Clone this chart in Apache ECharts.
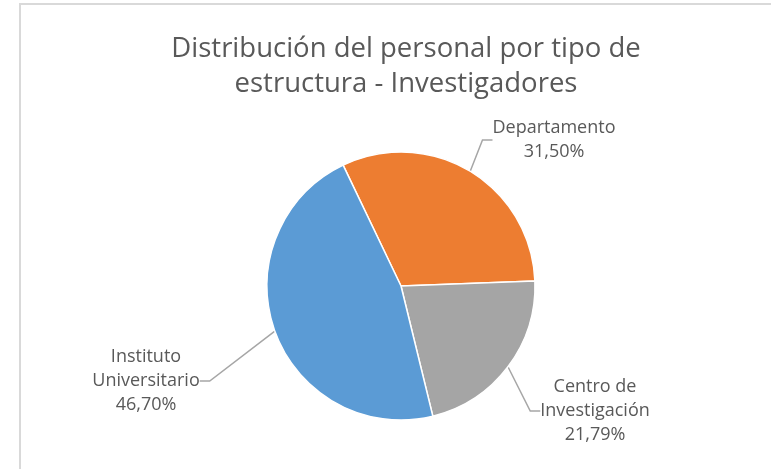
<!DOCTYPE html>
<html>
<head>
<meta charset="utf-8">
<script src="https://cdn.jsdelivr.net/npm/echarts@6/dist/echarts.min.js"></script>
<style>
html,body{margin:0;padding:0;background:#fff;}
#chart{width:771px;height:469px;}
</style>
</head>
<body>
<div id="chart"></div>
<script>
const titleText = 'Distribución del personal por tipo de\nestructura - Investigadores';
const categories = ['Departamento', 'Centro de\nInvestigación', 'Instituto\nUniversitario'];
const values = [31.50, 21.79, 46.70];
const valueLabels = ['31,50%', '21,79%', '46,70%'];
const colors = ['#ED7D31', '#A5A5A5', '#5B9BD5'];
// label block centres (layout)
const labelPos = [[554, 140], [595, 411], [146, 381]];

const chart = echarts.init(document.getElementById('chart'), null, {renderer: 'canvas'});
const data = categories.map((c, i) => ({
  name: c,
  value: values[i],
  itemStyle: {color: colors[i]}
}));

chart.setOption({
  animation: false,
  backgroundColor: '#fff',
  title: {
    text: titleText,
    left: 401,
    top: 27,
    textAlign: 'center',
    textStyle: {
      fontFamily: 'Open Sans',
      fontSize: 27.5,
      fontWeight: 'normal',
      color: '#595959',
      lineHeight: 35
    }
  },
  graphic: [{
    type: 'rect',
    shape: {x: 20, y: 4, width: 800, height: 500},
    style: {fill: 'none', stroke: '#d9d9d9', lineWidth: 2},
    silent: true,
    z: -1
  }],
  series: [{
    type: 'pie',
    center: [401, 286],
    radius: 134,
    startAngle: 115.6,
    clockwise: true,
    data: data,
    itemStyle: {borderColor: '#fff', borderWidth: 1.5},
    label: {
      show: true,
      position: 'outside',
      formatter: function (p) {
        const lines = p.name.split('\n').concat([valueLabels[p.dataIndex]]);
        return lines.map(l => '{a|' + l + '}').join('\n');
      },
      rich: {
        a: {
          fontFamily: 'Open Sans',
          fontSize: 18,
          color: '#595959',
          lineHeight: 24,
          align: 'center'
        }
      }
    },
    labelLine: {
      show: true,
      length: 20,
      length2: 10,
      smooth: false,
      lineStyle: {color: '#A6A6A6', width: 1.5}
    },
    labelLayout: function (params) {
      const p = labelPos[params.dataIndex];
      return {x: p[0], y: p[1], align: 'center', verticalAlign: 'middle'};
    },
    emphasis: {disabled: true}
  }]
});
</script>
</body>
</html>
